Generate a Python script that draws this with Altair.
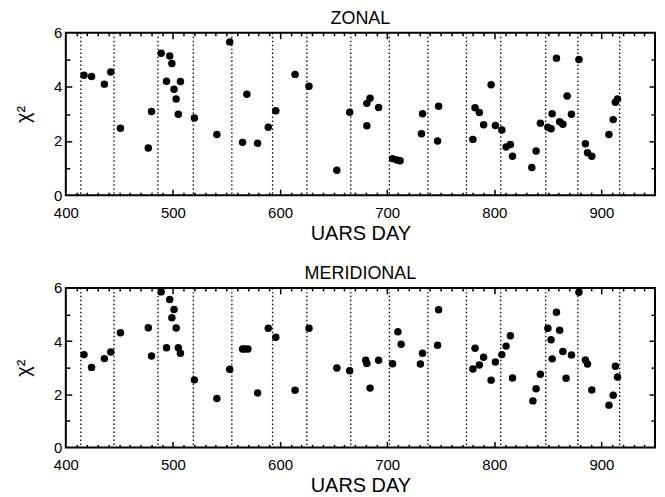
import altair as alt
import pandas as pd

# ---------------- data ----------------
zonal_day = [417, 424, 436, 442, 451, 477, 480, 489, 494, 497, 499, 501, 503, 505, 507,
             520, 541, 553, 565, 569, 579, 589, 596, 614, 627, 653, 665, 681, 681, 684,
             692, 705, 709, 712, 732, 733, 747, 748, 780, 782, 786, 790, 797, 801, 807,
             811, 815, 817, 835, 839, 843, 850, 853, 854, 858, 861, 864, 868, 872, 879,
             885, 887, 891, 907, 911, 913, 915]
zonal_chi = [4.43, 4.38, 4.10, 4.55, 2.47, 1.74, 3.09, 5.24, 4.21, 5.14, 4.86, 3.91, 3.55, 2.99, 4.20,
             2.85, 2.24, 5.66, 1.95, 3.73, 1.92, 2.51, 3.12, 4.46, 4.02, 0.92, 3.06, 2.56, 3.39, 3.58,
             3.24, 1.35, 1.30, 1.27, 2.27, 3.01, 2.00, 3.28, 2.06, 3.23, 3.05, 2.60, 4.08, 2.57, 2.41,
             1.78, 1.87, 1.44, 1.02, 1.63, 2.66, 2.51, 2.45, 3.01, 5.06, 2.71, 2.62, 3.66, 2.99, 5.01,
             1.90, 1.57, 1.44, 2.24, 2.79, 3.43, 3.55]

merid_day = [417, 424, 436, 442, 451, 477, 480, 489, 494, 497, 501, 499, 503, 505, 507,
             520, 541, 553, 565, 567, 570, 579, 589, 596, 614, 627, 653, 665, 680, 681,
             684, 692, 705, 710, 713, 731, 733, 748, 747, 780, 782, 786, 790, 797, 801,
             807, 811, 815, 817, 836, 839, 843, 850, 853, 854, 858, 861, 864, 867, 872,
             879, 885, 887, 891, 907, 911, 913, 915]
merid_chi = [3.49, 3.01, 3.34, 3.59, 4.31, 4.50, 3.44, 5.85, 3.75, 5.56, 5.19, 4.88, 4.49, 3.75, 3.54,
             2.54, 1.84, 2.94, 3.70, 3.70, 3.70, 2.05, 4.48, 4.14, 2.15, 4.48, 2.99, 2.88, 3.28, 3.16,
             2.23, 3.28, 3.15, 4.35, 3.88, 3.14, 3.54, 5.18, 3.84, 2.95, 3.73, 3.10, 3.39, 2.53, 3.21,
             3.49, 3.81, 4.20, 2.61, 1.75, 2.21, 2.75, 4.48, 4.05, 3.33, 5.08, 4.41, 3.61, 2.60, 3.48,
             5.84, 3.29, 3.14, 2.16, 1.59, 1.96, 3.05, 2.65]

divider_days = [414, 445, 486, 519, 555, 593, 625, 666, 702, 738, 774, 806, 848, 878, 917]

x_labels = [400, 500, 600, 700, 800, 900]
x_major = [500, 600, 700, 800, 900]
x_minor = [v for v in range(410, 950, 10) if v % 100 != 0]
y_labels = [0, 2, 4, 6]
y_major = [2, 4]
y_minor = [1, 3, 5]

X_DOMAIN = [400, 950]
Y_DOMAIN = [0, 6]

W = 591
FONT = "Liberation Sans"


def panel(days, chis, title, H):
    df = pd.DataFrame({"day": days, "chi": chis})
    xs = alt.Scale(domain=X_DOMAIN, nice=False, zero=False)
    ys = alt.Scale(domain=Y_DOMAIN, nice=False, zero=False)
    base = alt.Chart(df)

    rules = alt.Chart(pd.DataFrame({"d": divider_days})).mark_rule(
        color="black", strokeDash=[1.5, 2.5], strokeWidth=1.3
    ).encode(x=alt.X("d:Q", scale=xs, axis=None))

    pts = base.mark_circle(size=56, color="black", opacity=1).encode(
        x=alt.X("day:Q", scale=xs, axis=alt.Axis(
            orient="bottom", title="UARS DAY", values=x_labels, ticks=False, tickSize=0,
            domain=False, grid=False, labelPadding=10, titlePadding=3,
            labelFontSize=15, titleFontSize=20, titleFontWeight="normal",
            labelColor="black", titleColor="black", labelFlush=False)),
        y=alt.Y("chi:Q", scale=ys, axis=alt.Axis(
            orient="left", title="χ²", values=y_labels, ticks=False, tickSize=0,
            domain=False, grid=False, labelPadding=4, titlePadding=20,
            labelFontSize=15, titleFontSize=20, titleFontWeight="normal",
            labelColor="black", titleColor="black", labelFlush=False)),
    )

    def ticks(xorient, yorient, xvals, yvals, xsize, ysize):
        return base.mark_circle(opacity=0).encode(
            x=alt.X("day:Q", scale=xs, title=None, axis=alt.Axis(
                orient=xorient, offset=-H, values=xvals, labels=False, domain=False,
                grid=False, ticks=True, tickSize=xsize, tickColor="black", tickWidth=1.5)),
            y=alt.Y("chi:Q", scale=ys, title=None, axis=alt.Axis(
                orient=yorient, offset=-W, values=yvals, labels=False, domain=False,
                grid=False, ticks=True, tickSize=ysize, tickColor="black", tickWidth=1.5)),
        )

    layers = [
        rules, pts,
        ticks("top", "right", x_minor, y_minor, 3, 4),     # bottom / left inward minor
        ticks("top", "right", x_major, y_major, 6, 6),     # bottom / left inward major
        ticks("bottom", "left", x_minor, y_minor, 3, 4),   # top / right inward minor
        ticks("bottom", "left", x_major, y_major, 6, 6),   # top / right inward major
    ]
    return alt.layer(*layers).resolve_axis(x="independent", y="independent").properties(
        width=W, height=H,
        title=alt.TitleParams(title, fontSize=18, fontWeight="normal", color="black",
                              font=FONT, offset=-2, anchor="middle"),
    )


chart = alt.vconcat(
    panel(zonal_day, zonal_chi, "ZONAL", 163),
    panel(merid_day, merid_chi, "MERIDIONAL", 160),
    spacing=20,
).properties(
    padding={"left": 4, "top": 0, "right": 0, "bottom": 0},
    background="white",
).configure_view(
    stroke="black", strokeWidth=2
).configure_axis(
    labelFont=FONT, titleFont=FONT
)

chart.save("out.html", embed_options={"renderer": "svg", "actions": False})
